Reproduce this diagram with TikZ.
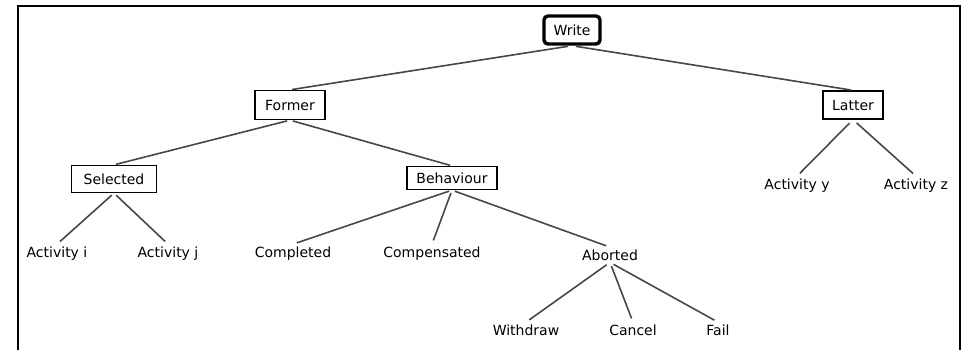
\documentclass[tikz,border=0pt]{standalone}
\usepackage{fontspec}
\setmainfont{DejaVu Sans}
\begin{document}
\begin{tikzpicture}[x=1pt,y=-1pt,
  every node/.style={font=\fontsize{14}{16}\selectfont, text=black},
  rootbox/.style={draw, line width=3.4pt, rounded corners=4pt, inner sep=0pt,
                  minimum width=56, minimum height=28},
  box/.style={draw, line width=1.3pt, inner sep=0pt},
  leaf/.style={anchor=base, inner sep=2pt},
  edge/.style={draw=black!72, line width=1.6pt}]
\useasboundingbox (0,0) rectangle (977,350);
% open frame round the tree
\draw[line width=2pt] (18,351) -- (18,6) -- (960,6) -- (960,351);

% boxed nodes
\node[rootbox] (write) at (572,30) {Write};
\node[box, minimum width=70, minimum height=29] (former) at (290,105) {Former};
\node[box, minimum width=85, minimum height=27] (selected) at (114,179) {Selected};
\node[box, minimum width=90, minimum height=23] (behaviour) at (452,178) {Behaviour};
\node[box, minimum width=60, minimum height=28] (latter) at (853,105) {Latter};

% leaves
\node[leaf] (acti) at (57,257) {Activity i};
\node[leaf] (actj) at (168,257) {Activity j};
\node[leaf] (completed) at (293,257) {Completed};
\node[leaf] (compensated) at (432,257) {Compensated};
\node[leaf] (aborted) at (610,260) {Aborted};
\node[leaf] (withdraw) at (526,335) {Withdraw};
\node[leaf] (cancel) at (633,335) {Cancel};
\node[leaf] (fail) at (718,335) {Fail};
\node[leaf] (acty) at (797,189) {Activity y};
\node[leaf] (actz) at (916,189) {Activity z};

% connectors
\path[edge, shorten <=4pt, shorten >=2pt] (write.south) -- (former.north);
\path[edge, shorten <=4pt, shorten >=2pt] (write.south) -- (latter.north);
\path[edge, shorten <=3pt, shorten >=2pt] (former.south) -- (selected.north);
\path[edge, shorten <=3pt, shorten >=2pt] (former.south) -- (behaviour.north);
\path[edge, shorten <=3pt, shorten >=4pt] (selected.south) -- (acti.north);
\path[edge, shorten <=3pt, shorten >=4pt] (selected.south) -- (actj.north);
\path[edge, shorten <=3pt, shorten >=4pt] (behaviour.south) -- (completed.north);
\path[edge, shorten <=3pt, shorten >=4pt] (behaviour.south) -- (compensated.north);
\path[edge, shorten <=3pt, shorten >=4pt] (behaviour.south) -- (aborted.north);
\path[edge, shorten <=4pt, shorten >=4pt] (aborted.south) -- (withdraw.north);
\path[edge, shorten <=4pt, shorten >=4pt] (aborted.south) -- (cancel.north);
\path[edge, shorten <=4pt, shorten >=4pt] (aborted.south) -- (fail.north);
\path[edge, shorten <=5pt, shorten >=4pt] (latter.south) -- (acty.north);
\path[edge, shorten <=5pt, shorten >=4pt] (latter.south) -- (actz.north);
\end{tikzpicture}
\end{document}
